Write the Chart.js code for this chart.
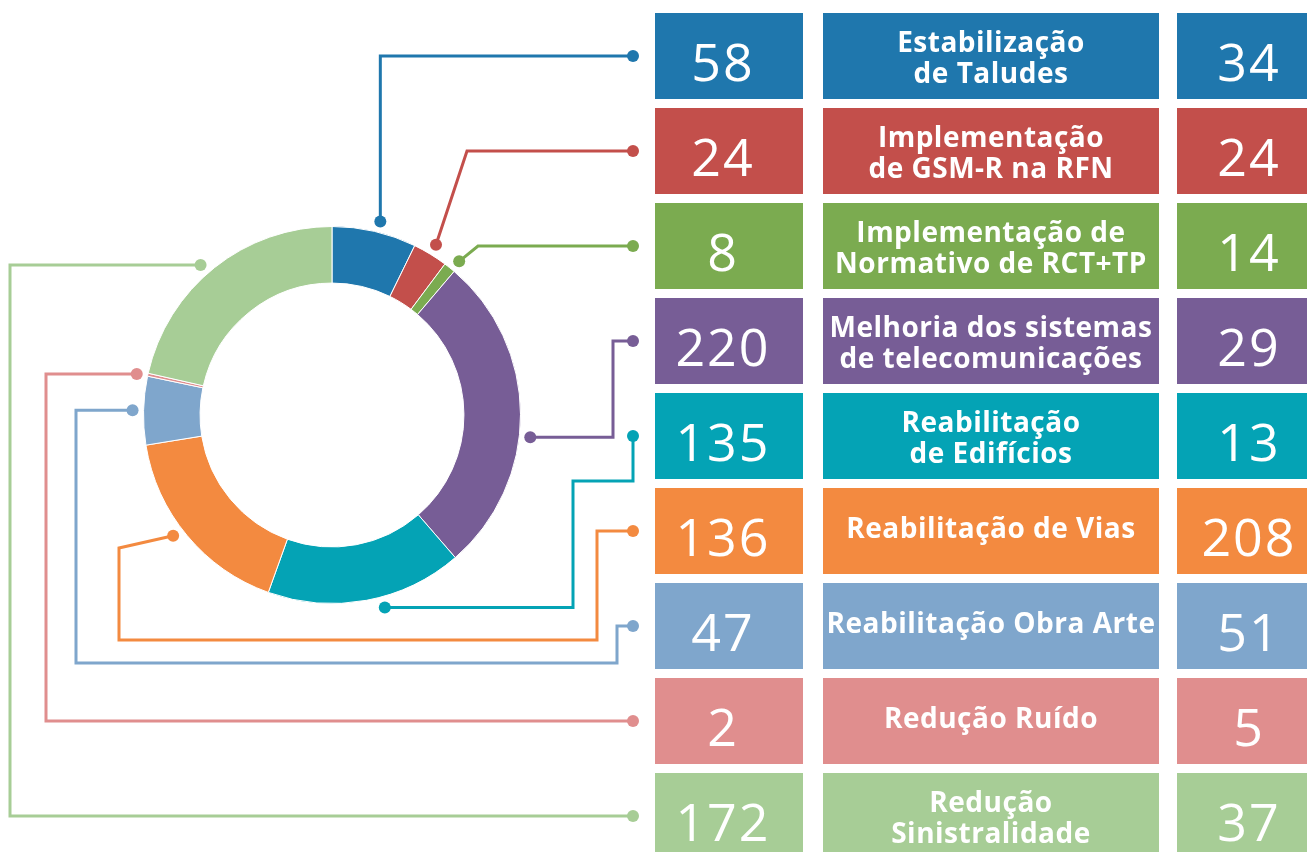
<!DOCTYPE html>
<html>
<head>
<meta charset="utf-8">
<script src="https://cdn.jsdelivr.net/npm/chart.js@4/dist/chart.umd.min.js"></script>
<style>
  html, body { margin: 0; padding: 0; background: #fff; }
  #wrap { position: relative; width: 1307px; height: 852px; overflow: hidden; }
  #c { position: absolute; left: 0; top: 0; }
  .box { position: absolute; display: flex; align-items: center; justify-content: center;
         color: #fff; text-align: center; box-sizing: border-box; }
  .num { font-family: "Open Sans", sans-serif; font-weight: 400; font-size: 52px;
         letter-spacing: 2px; padding-top: 9px; }
  .lbl { font-family: "Open Sans", sans-serif; font-weight: 700; font-size: 28px; line-height: 31px;
         letter-spacing: 0.5px; white-space: pre; }
  .lbl.two { padding-top: 2px; }
  .lbl.one { padding-bottom: 7px; }
</style>
</head>
<body>
<div id="wrap">
  <canvas id="c" width="1307" height="852"></canvas>
</div>
<script>
const categories = [
  'Estabilização\nde Taludes',
  'Implementação\nde GSM-R na RFN',
  'Implementação de\nNormativo de RCT+TP',
  'Melhoria dos sistemas\nde telecomunicações',
  'Reabilitação\nde Edifícios',
  'Reabilitação de Vias',
  'Reabilitação Obra Arte',
  'Redução Ruído',
  'Redução\nSinistralidade'
];
const leftValues = [58, 24, 8, 220, 135, 136, 47, 2, 172];
const rightValues = [34, 24, 14, 29, 13, 208, 51, 5, 37];
const colors = ['#1f77ad', '#c34f4b', '#7bab50', '#775d96', '#04a3b5',
                '#f38a40', '#7fa6cc', '#e08e8e', '#a7cd96'];

// box layout
const rowTop = 13, rowStep = 95, rowH = 86;
const cols = [[655, 148], [823, 336], [1177, 144]];
const dotX = 633;
// small nudges (degrees) of where each leader leaves the ring
const leaderShift = [1, 0, 1, 6.6, -4.8, 2.5, 0, -0.5, -2.6];

const wrap = document.getElementById('wrap');
categories.forEach(function (cat, i) {
  const texts = [String(leftValues[i]), cat, String(rightValues[i])];
  cols.forEach(function (col, j) {
    let d = document.createElement('div');
    d.className = 'box ' + (j === 1 ? 'lbl ' + (cat.indexOf('\n') >= 0 ? 'two' : 'one') : 'num');
    d.style.left = col[0] + 'px';
    d.style.width = col[1] + 'px';
    d.style.top = (rowTop + rowStep * i) + 'px';
    d.style.height = rowH + 'px';
    d.style.background = colors[i];
    if (j === 0) d.style.paddingRight = '12px';
    d.textContent = texts[j];
    wrap.appendChild(d);
  });
});

// leader routes from the ring dot (p) to the box dot (t)
const routes = [
  (p, t) => [p, [p[0], t[1]], t],
  (p, t) => [p, [467, t[1]], t],
  (p, t) => [p, [478, t[1]], t],
  (p, t) => [p, [613, p[1]], [613, t[1]], t],
  (p, t) => [p, [573, p[1]], [573, 481], [633, 481], t],
  (p, t) => [p, [119, 548], [119, 640], [597, 640], [597, t[1]], t],
  (p, t) => [p, [76, p[1]], [76, 663], [617, 663], [617, t[1]], t],
  (p, t) => [p, [46, p[1]], [46, t[1]], t],
  (p, t) => [p, [10, p[1]], [10, t[1]], t]
];

const leaders = {
  id: 'leaders',
  afterDatasetsDraw(chart) {
    const ctx = chart.ctx;
    const arcs = chart.getDatasetMeta(0).data;
    arcs.forEach(function (arc, i) {
      const mid = (arc.startAngle + arc.endAngle) / 2 + leaderShift[i] * Math.PI / 180;
      const r = arc.outerRadius + 11;
      const p = [arc.x + Math.cos(mid) * r, arc.y + Math.sin(mid) * r];
      const t = [dotX, rowTop + rowStep * i + rowH / 2];
      const pts = routes[i](p, t);
      ctx.save();
      ctx.strokeStyle = colors[i];
      ctx.fillStyle = colors[i];
      ctx.lineWidth = 3;
      ctx.beginPath();
      pts.forEach(function (q, k) {
        if (k === 0) ctx.moveTo(q[0], q[1]); else ctx.lineTo(q[0], q[1]);
      });
      ctx.stroke();
      [p, t].forEach(function (q) {
        ctx.beginPath();
        ctx.arc(q[0], q[1], 6, 0, Math.PI * 2);
        ctx.fill();
      });
      ctx.restore();
    });
  }
};

new Chart(document.getElementById('c'), {
  type: 'doughnut',
  data: {
    labels: categories,
    datasets: [{
      data: leftValues,
      backgroundColor: colors,
      borderColor: '#ffffff',
      borderWidth: 1
    }]
  },
  options: {
    responsive: false,
    animation: false,
    events: [],
    devicePixelRatio: 1,
    cutout: '70%',
    layout: { padding: { left: 143, right: 786, top: 226, bottom: 248 } },
    plugins: { legend: { display: false }, tooltip: { enabled: false } }
  },
  plugins: [leaders]
});
</script>
</body>
</html>
